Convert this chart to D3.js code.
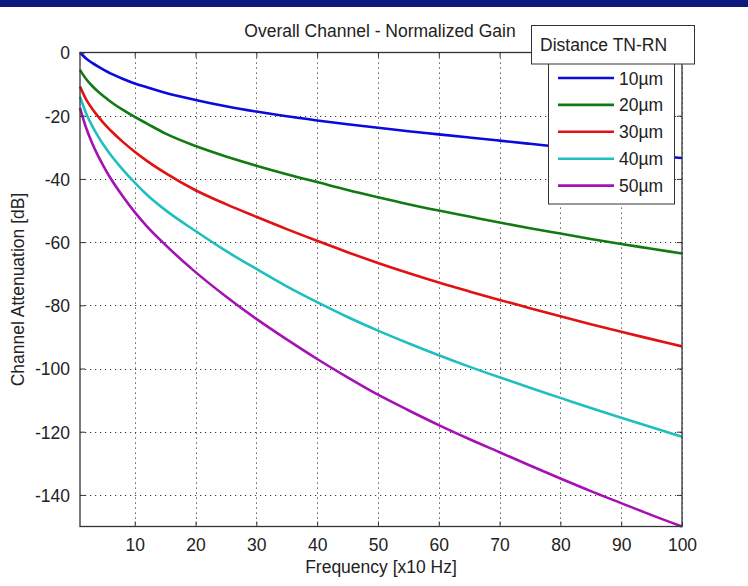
<!DOCTYPE html>
<html><head><meta charset="utf-8">
<script src="https://cdn.jsdelivr.net/npm/d3@7/dist/d3.min.js"></script>
<style>
html,body{margin:0;padding:0;background:#fff;}
svg{display:block;}
text{font-family:"Liberation Sans",Arial,Helvetica,sans-serif;fill:#222;}
</style></head>
<body>
<script>
// ---- data ----
const freq = [1,2,3,4,5,6,8,10,12,15,20,25,30,35,40,45,50,55,60,65,70,75,80,85,90,95,100];
const d10 = [0,-1.9,-3.3,-4.5,-5.6,-6.6,-8.3,-9.8,-11.0,-12.7,-15.0,-17.0,-18.7,-20.2,-21.5,-22.7,-23.8,-24.9,-25.9,-26.9,-27.9,-28.9,-29.9,-30.8,-31.7,-32.6,-33.4];
const d20 = [-5.5,-8.4,-10.6,-12.4,-14.0,-15.5,-18.1,-20.4,-22.5,-25.6,-29.6,-32.9,-35.8,-38.5,-41.0,-43.5,-45.8,-48.0,-50.0,-51.9,-53.8,-55.6,-57.3,-59.0,-60.6,-62.1,-63.6];
const d30 = [-10.8,-14.8,-17.8,-20.3,-22.6,-24.6,-28.2,-31.4,-34.3,-38.1,-43.6,-48.0,-52.0,-55.9,-59.6,-63.2,-66.6,-69.8,-72.8,-75.6,-78.3,-80.9,-83.5,-86.0,-88.4,-90.7,-93.0];
const d40 = [-14.0,-19.2,-23.2,-26.6,-29.6,-32.3,-37.0,-41.2,-45.0,-49.8,-56.5,-62.8,-68.5,-74.0,-79.0,-83.7,-88.0,-92.0,-95.8,-99.4,-102.8,-106.1,-109.3,-112.5,-115.6,-118.6,-121.6];
const d50 = [-17.5,-23.8,-28.7,-32.8,-36.4,-39.7,-45.4,-50.5,-55.0,-60.8,-69.5,-77.2,-84.3,-90.8,-97.0,-102.8,-108.3,-113.2,-117.9,-122.3,-126.5,-130.7,-134.8,-138.8,-142.6,-146.4,-150.0];
const seriesNames = ["10\u00b5m","20\u00b5m","30\u00b5m","40\u00b5m","50\u00b5m"];
const seriesValues = [d10,d20,d30,d40,d50];
const seriesColors = ["#0a0adc","#127a12","#e01212","#1fbfbf","#a512b4"];
const xTicks = [10,20,30,40,50,60,70,80,90,100];
const yTicks = [0,-20,-40,-60,-80,-100,-120,-140];
const titleText = "Overall Channel - Normalized Gain";
const xLabel = "Frequency [x10 Hz]";
const yLabel = "Channel Attenuation [dB]";
const legendTitle = "Distance TN-RN";

// ---- layout ----
const W = 748, H = 586;
const L = 80, R = 682, T = 52.5, B = 526.5;
const FS = 17.5;

const svg = d3.select("body").append("svg").attr("width", W).attr("height", H);
svg.append("rect").attr("x",0).attr("y",0).attr("width",W).attr("height",H).attr("fill","#fff");
svg.append("rect").attr("x",0).attr("y",0).attr("width",W).attr("height",7).attr("fill","#0b1a7c");

const x = d3.scaleLinear().domain([1,100]).range([L,R]);
const y = d3.scaleLinear().domain([-150,0]).range([B,T]);

// grid
const grid = svg.append("g").attr("stroke","#333").attr("stroke-width",1).attr("stroke-dasharray","1.2,3.8");
grid.selectAll(".gx").data(xTicks).enter().append("line")
  .attr("x1",d=>Math.round(x(d))+0.5).attr("x2",d=>Math.round(x(d))+0.5).attr("y1",T).attr("y2",B);
grid.selectAll(".gy").data(yTicks.filter(d=>d!==0)).enter().append("line")
  .attr("y1",d=>Math.round(y(d))+0.5).attr("y2",d=>Math.round(y(d))+0.5).attr("x1",L).attr("x2",R);

// curves
const line = d3.line().x((d,i)=>x(freq[i])).y(d=>y(d)).curve(d3.curveMonotoneX);
seriesValues.forEach((vals,k)=>{
  svg.append("path").datum(vals).attr("d",line).attr("fill","none")
    .attr("stroke",seriesColors[k]).attr("stroke-width",2.6).attr("stroke-linejoin","round");
});

// axes (ticks inward, on all four sides)
const tl = 5;
const fmt = d => String(d);
const axB = svg.append("g").attr("transform",`translate(0,${B})`)
  .call(d3.axisBottom(x).tickValues(xTicks).tickFormat(fmt).tickSizeInner(-tl).tickSizeOuter(0).tickPadding(12));
const axL = svg.append("g").attr("transform",`translate(${L},0)`)
  .call(d3.axisLeft(y).tickValues(yTicks).tickFormat(fmt).tickSizeInner(-tl).tickSizeOuter(0).tickPadding(10));
const axT = svg.append("g").attr("transform",`translate(0,${T})`)
  .call(d3.axisTop(x).tickValues(xTicks).tickSizeInner(-tl).tickSizeOuter(0).tickFormat(""));
const axR = svg.append("g").attr("transform",`translate(${R},0)`)
  .call(d3.axisRight(y).tickValues(yTicks).tickSizeInner(-tl).tickSizeOuter(0).tickFormat(""));
[axB,axL,axT,axR].forEach(a=>{
  a.select(".domain").remove();
  a.selectAll("line").attr("stroke","#333").attr("stroke-width",1);
  a.selectAll("text").style("font-size",FS+"px").style("font-family","'Liberation Sans',Arial,sans-serif").attr("fill","#222");
});
axL.selectAll("text").attr("dy","0.36em");

// frame
svg.append("rect").attr("x",L).attr("y",T).attr("width",R-L).attr("height",B-T)
  .attr("fill","none").attr("stroke","#333").attr("stroke-width",1.3);

// title & labels
svg.append("text").attr("x",380).attr("y",37).attr("text-anchor","middle").style("font-size",FS+"px").text(titleText);
svg.append("text").attr("x",(L+R)/2).attr("y",573).attr("text-anchor","middle").style("font-size",FS+"px").text(xLabel);
svg.append("text").attr("transform",`translate(24,${(T+B)/2}) rotate(-90)`).attr("text-anchor","middle").style("font-size",FS+"px").text(yLabel);

// legend
const lg = svg.append("g");
lg.append("rect").attr("x",548.5).attr("y",63.5).attr("width",126).attr("height",140.5)
  .attr("fill","#fff").attr("stroke","#333").attr("stroke-width",1);
lg.append("rect").attr("x",531.5).attr("y",25.5).attr("width",163).attr("height",38.5)
  .attr("fill","#fff").attr("stroke","#333").attr("stroke-width",1);
lg.append("text").attr("x",540).attr("y",51).style("font-size",FS+"px").text(legendTitle);
seriesNames.forEach((n,k)=>{
  const yy = 78 + k*26.9;
  lg.append("line").attr("x1",558).attr("x2",614).attr("y1",yy).attr("y2",yy)
    .attr("stroke",seriesColors[k]).attr("stroke-width",2.6);
  lg.append("text").attr("x",619).attr("y",yy+6.5).style("font-size",FS+"px").text(n);
});
</script>
</body></html>
